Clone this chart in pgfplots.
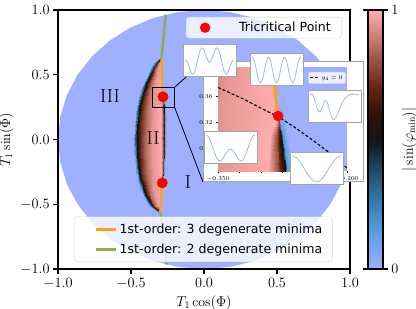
\documentclass[border=0pt]{standalone}
\usepackage{fontspec}
\usepackage{pgfplots}
\usepackage{pgfplotstable}
\pgfplotsset{compat=1.18}
\newfontfamily\djs{DejaVu Sans}
\newcommand\fs{\fontsize{13.9}{16.5}\selectfont}
\newcommand\lgfs{\djs\fontsize{12.6}{15}\selectfont}
\definecolor{bzero}{RGB}{158,176,255}
\definecolor{orng}{RGB}{255,160,25}
\definecolor{grn}{RGB}{145,172,78}
\definecolor{wave}{RGB}{165,185,220}
\definecolor{frm}{RGB}{165,165,165}
\pgfplotsset{
  colormap={berlin}{rgb255=(158,176,255) rgb255=(110,165,235) rgb255=(72,143,200) rgb255=(45,108,148) rgb255=(28,66,90) rgb255=(17,20,22) rgb255=(52,18,6) rgb255=(100,38,18) rgb255=(152,80,64) rgb255=(205,128,118) rgb255=(255,173,173)},
  wavebox/.style={scale only axis, width=53bp, height=32bp, anchor=south west,
    xtick=\empty, ytick=\empty, axis line style={draw=frm, line width=1bp},
    axis background/.style={fill=white}, enlarge x limits=0.05, enlarge y limits=0.12},
}
\pgfplotstableread{
x y c
-0.311 0.63 0
-0.299 0.63 0.3
-0.291 0.63 0.6
-0.291 0.63 0.6
-0.291 0.63 0.6
-0.291 0.63 0.6
-0.291 0.63 0.6
-0.291 0.63 0.6
-0.291 0.63 0.6
-0.290 0.63 0
-0.283 0.63 0
-0.343 0.60 0
-0.328 0.60 0.3
-0.318 0.60 0.5
-0.3152 0.60 0.7
-0.3096 0.60 0.85
-0.3026 0.60 0.95
-0.292 0.60 1
-0.291 0.60 1
-0.290 0.60 1
-0.289 0.60 0
-0.282 0.60 0
-0.370 0.55 0
-0.355 0.55 0.3
-0.345 0.55 0.5
-0.3394 0.55 0.7
-0.3282 0.55 0.85
-0.3142 0.55 0.95
-0.291 0.55 1
-0.290 0.55 1
-0.289 0.55 1
-0.288 0.55 0
-0.281 0.55 0
-0.392 0.50 0
-0.377 0.50 0.3
-0.367 0.50 0.5
-0.3591 0.50 0.7
-0.3433 0.50 0.85
-0.3236 0.50 0.95
-0.290 0.50 1
-0.289 0.50 1
-0.288 0.50 1
-0.287 0.50 0
-0.280 0.50 0
-0.413 0.45 0
-0.398 0.45 0.3
-0.388 0.45 0.5
-0.3779 0.45 0.7
-0.3577 0.45 0.85
-0.3325 0.45 0.95
-0.289 0.45 1
-0.288 0.45 1
-0.287 0.45 1
-0.286 0.45 0
-0.279 0.45 0
-0.430 0.40 0
-0.415 0.40 0.3
-0.405 0.40 0.5
-0.3931 0.40 0.7
-0.3693 0.40 0.85
-0.3396 0.40 0.95
-0.288 0.40 1
-0.287 0.40 1
-0.286 0.40 1
-0.285 0.40 0
-0.278 0.40 0
-0.443 0.36 0
-0.428 0.36 0.3
-0.418 0.36 0.5
-0.4045 0.36 0.7
-0.3775 0.36 0.85
-0.3438 0.36 0.95
-0.285 0.36 1
-0.284 0.36 1
-0.283 0.36 1
-0.282 0.36 0
-0.275 0.36 0
-0.452 0.33 0
-0.437 0.33 0.3
-0.427 0.33 0.5
-0.4123 0.33 0.7
-0.3829 0.33 0.85
-0.3462 0.33 0.95
-0.282 0.33 1
-0.281 0.33 1
-0.280 0.33 0.9
-0.279 0.33 0.05
-0.272 0.33 0
-0.459 0.30 0
-0.444 0.30 0.3
-0.434 0.30 0.5
-0.4183 0.30 0.7
-0.3869 0.30 0.85
-0.3477 0.30 0.95
-0.289 0.30 1
-0.2818 0.30 0.8
-0.277 0.30 0.5
-0.275 0.30 0.15
-0.269 0.30 0
-0.467 0.25 0
-0.452 0.25 0.3
-0.442 0.25 0.5
-0.425 0.25 0.7
-0.391 0.25 0.85
-0.3485 0.25 0.95
-0.292 0.25 1
-0.280 0.25 0.8
-0.272 0.25 0.5
-0.270 0.25 0.15
-0.264 0.25 0
-0.473 0.20 0
-0.458 0.20 0.3
-0.448 0.20 0.5
-0.4302 0.20 0.7
-0.3946 0.20 0.85
-0.3501 0.20 0.95
-0.294 0.20 1
-0.2796 0.20 0.8
-0.270 0.20 0.5
-0.268 0.20 0.15
-0.262 0.20 0
-0.482 0.10 0
-0.467 0.10 0.3
-0.457 0.10 0.5
-0.4381 0.10 0.7
-0.4003 0.10 0.85
-0.3530 0.10 0.95
-0.296 0.10 1
-0.2792 0.10 0.8
-0.268 0.10 0.5
-0.266 0.10 0.15
-0.260 0.10 0
-0.485 0.00 0
-0.470 0.00 0.3
-0.460 0.00 0.5
-0.4408 0.00 0.7
-0.4024 0.00 0.85
-0.3544 0.00 0.95
-0.296 0.00 1
-0.2792 0.00 0.8
-0.268 0.00 0.5
-0.266 0.00 0.15
-0.260 0.00 0
-0.483 -0.10 0
-0.468 -0.10 0.3
-0.458 -0.10 0.5
-0.4392 -0.10 0.7
-0.4016 -0.10 0.85
-0.3546 -0.10 0.95
-0.296 -0.10 1
-0.2804 -0.10 0.8
-0.270 -0.10 0.5
-0.268 -0.10 0.15
-0.262 -0.10 0
-0.475 -0.20 0
-0.460 -0.20 0.3
-0.450 -0.20 0.5
-0.4324 -0.20 0.7
-0.3972 -0.20 0.85
-0.3532 -0.20 0.95
-0.296 -0.20 1
-0.2828 -0.20 0.8
-0.274 -0.20 0.5
-0.272 -0.20 0.15
-0.266 -0.20 0
-0.470 -0.25 0
-0.455 -0.25 0.3
-0.445 -0.25 0.5
-0.4282 -0.25 0.7
-0.3946 -0.25 0.85
-0.3526 -0.25 0.95
-0.295 -0.25 1
-0.2842 -0.25 0.8
-0.277 -0.25 0.5
-0.275 -0.25 0.15
-0.269 -0.25 0
-0.462 -0.30 0
-0.447 -0.30 0.3
-0.437 -0.30 0.5
-0.4215 -0.30 0.7
-0.3905 -0.30 0.85
-0.3518 -0.30 0.95
-0.292 -0.30 1
-0.286 -0.30 0.8
-0.282 -0.30 0.5
-0.280 -0.30 0.15
-0.274 -0.30 0
-0.453 -0.335 0
-0.438 -0.335 0.3
-0.428 -0.335 0.5
-0.4138 -0.335 0.7
-0.3854 -0.335 0.85
-0.3499 -0.335 0.95
-0.288 -0.335 1
-0.287 -0.335 1
-0.286 -0.335 0.9
-0.285 -0.335 0.05
-0.278 -0.335 0
-0.443 -0.37 0
-0.428 -0.37 0.3
-0.418 -0.37 0.5
-0.4051 -0.37 0.7
-0.3793 -0.37 0.85
-0.3470 -0.37 0.95
-0.291 -0.37 1
-0.290 -0.37 1
-0.289 -0.37 1
-0.288 -0.37 0
-0.281 -0.37 0
-0.427 -0.42 0
-0.412 -0.42 0.3
-0.402 -0.42 0.5
-0.3910 -0.42 0.7
-0.3690 -0.42 0.85
-0.3415 -0.42 0.95
-0.294 -0.42 1
-0.293 -0.42 1
-0.292 -0.42 1
-0.291 -0.42 0
-0.284 -0.42 0
-0.403 -0.47 0
-0.388 -0.47 0.3
-0.378 -0.47 0.5
-0.3696 -0.47 0.7
-0.3528 -0.47 0.85
-0.3318 -0.47 0.95
-0.296 -0.47 1
-0.295 -0.47 1
-0.294 -0.47 1
-0.293 -0.47 0
-0.286 -0.47 0
-0.377 -0.51 0
-0.362 -0.51 0.3
-0.352 -0.51 0.5
-0.3464 -0.51 0.7
-0.3352 -0.51 0.85
-0.3212 -0.51 0.95
-0.298 -0.51 1
-0.297 -0.51 1
-0.296 -0.51 1
-0.295 -0.51 0
-0.288 -0.51 0
-0.319 -0.56 0
-0.307 -0.56 0.3
-0.299 -0.56 0.6
-0.299 -0.56 0.6
-0.299 -0.56 0.6
-0.299 -0.56 0.6
-0.299 -0.56 0.6
-0.299 -0.56 0.6
-0.299 -0.56 0.6
-0.298 -0.56 0
-0.291 -0.56 0
}\lens

\begin{document}
\begin{tikzpicture}
\path[use as bounding box] (0bp,0bp) rectangle (416bp,309bp);
% ---------------- main axis
\begin{axis}[
  at={(58bp,40bp)}, anchor=south west,
  scale only axis, width=292bp, height=259bp,
  xmin=-1, xmax=1, ymin=-1, ymax=1,
  axis on top,
  xtick={-1,-0.5,0,0.5,1}, ytick={-1,-0.5,0,0.5,1},
  xticklabels={$-1.0$,$-0.5$,$0.0$,$0.5$,$1.0$},
  yticklabels={$-1.0$,$-0.5$,$0.0$,$0.5$,$1.0$},
  xtick pos=left, ytick pos=left,
  tick align=outside, major tick length=4.9bp,
  tick style={black, line width=1.1bp},
  axis line style={line width=1.1bp},
  tick label style={font=\fs},
  xticklabel style={yshift=-1bp},
  label style={font=\fs},
  xlabel={$T_1\cos(\Phi)$}, ylabel={$T_1\sin(\Phi)$},
  point meta min=0, point meta max=1,
  colorbar,
  colorbar shift/.style={xshift=18bp},
  colorbar style={at={(parent axis.north east)}, anchor=north west,
    scale only axis, width=15bp, height=259bp,
    ytick={0,1}, yticklabels={$0$,$1$},
    tick align=outside, major tick length=4.9bp,
    tick style={black, line width=1.1bp}, axis line style={line width=1.1bp},
    tick label style={font=\fs},
    ylabel={$|\sin(\varphi_{\min})|$},
    every axis y label/.style={at={(rel axis cs:2.75,0.5)}, rotate=90, anchor=center, font=\fs}},
  legend style={at={(0.0548,0.027)}, anchor=south west, draw=black!18, fill=white,
    fill opacity=0.8, text opacity=1, rounded corners=3bp,
    inner xsep=8bp, inner ysep=5bp, font=\lgfs, row sep=5bp},
  legend cell align=left,
  legend image code/.code={\draw[#1, line width=3bp] (14bp,0bp) -- (34bp,0bp); \path[draw=none,fill=none] (0bp,0bp) -- (34bp,0bp);},
]
\addplot[fill=bzero, draw=none, forget plot] coordinates {
(1,0) (0.9848,0.1736) (0.9397,0.3420) (0.8660,0.5) (0.7660,0.6428) (0.6428,0.7660)
(0.5,0.8660) (0.3420,0.9397) (0.1736,0.9848) (0,1) (-0.1736,0.9848) (-0.3420,0.9397)
(-0.5,0.8660) (-0.6428,0.7660) (-0.7660,0.6428) (-0.8660,0.5) (-0.9397,0.3420)
(-0.9848,0.1736) (-1,0) (-0.9848,-0.1736) (-0.9397,-0.3420) (-0.8660,-0.5)
(-0.7660,-0.6428) (-0.6428,-0.7660) (-0.5,-0.8660) (-0.3420,-0.9397) (-0.1736,-0.9848)
(0,-1) (0.1736,-0.9848) (0.3420,-0.9397) (0.5,-0.8660) (0.6428,-0.7660) (0.7660,-0.6428)
(0.8660,-0.5) (0.9397,-0.3420) (0.9848,-0.1736)};
\addplot[surf, shader=interp, mesh/cols=11, point meta=\thisrow{c}, forget plot] table[x=x, y=y] {\lens};
\addplot[orng, line width=2.4bp] coordinates {(-0.281,0.33) (-0.283,0.36) (-0.286,0.40) (-0.287,0.45) (-0.288,0.50) (-0.289,0.55) (-0.290,0.60) (-0.291,0.63)};
\addlegendentry{1st-order: 3 degenerate minima}
\addplot[orng, line width=2.4bp, forget plot] coordinates {(-0.286,-0.335) (-0.289,-0.37) (-0.292,-0.42) (-0.294,-0.47) (-0.296,-0.51) (-0.299,-0.56)};
\addplot[grn, line width=2.4bp] coordinates {(-0.291,0.63) (-0.262,0.965)};
\addlegendentry{1st-order: 2 degenerate minima}
\addplot[grn, line width=2.4bp, forget plot] coordinates {(-0.299,-0.56) (-0.255,-0.967)};
\addplot[black, line width=1.1bp, forget plot] coordinates {(-0.35,0.245) (-0.2,0.245) (-0.2,0.405) (-0.35,0.405) (-0.35,0.245)};
\node[font=\fontsize{19}{22}\selectfont] at (axis cs:-0.644,0.336) {III};
\node[font=\fontsize{19}{22}\selectfont] at (axis cs:-0.349,0.012) {II};
\node[font=\fontsize{19}{22}\selectfont] at (axis cs:-0.110,-0.328) {I};
\coordinate (r1) at (axis cs:-0.2,0.405);
\coordinate (r2) at (axis cs:-0.2,0.245);
\end{axis}
% connectors and inset background
\draw[black, line width=0.8bp] (r1) -- (203bp,247bp);
\draw[black, line width=0.8bp] (r2) -- (203bp,127bp);
\draw[fill=white, draw=frm, line width=1bp] (203bp,127bp) rectangle (363bp,247bp);
% ---------------- inset
\begin{axis}[
  at={(218bp,137.7bp)}, anchor=south west,
  scale only axis, width=129bp, height=104bp,
  xmin=-0.35, xmax=-0.2, ymin=0.245, ymax=0.405,
  axis background/.style={fill=bzero},
  axis line style={draw=none},
  xtick={-0.35,-0.2}, xticklabels={$-0.350$,$-0.200$},
  minor xtick={-0.325,-0.3,-0.275,-0.25,-0.225},
  ytick={0.28,0.32,0.36,0.40}, yticklabels={$0.28$,$0.32$,$0.36$,$0.40$},
  xtick pos=left, ytick pos=left, tick align=outside,
  major tick length=2bp, minor tick length=2bp, tick style={black, line width=0.5bp},
  tick label style={font=\fontsize{5.6}{6}\selectfont},
  point meta min=0, point meta max=1,
  legend style={at={(0.99,0.955)}, anchor=north east, font=\fontsize{6}{7}\selectfont,
    draw=black!18, fill=white, fill opacity=0.8, text opacity=1, rounded corners=1bp,
    inner sep=1bp},
  legend image code/.code={\draw[#1] (0bp,0bp) -- (9bp,0bp);},
]
\addplot[surf, shader=interp, mesh/cols=11, point meta=\thisrow{c}, forget plot] table[x=x, y=y] {\lens};
\addplot[orng, line width=3bp, forget plot] coordinates {(-0.280,0.33) (-0.283,0.36) (-0.286,0.40) (-0.2865,0.41)};
\addplot[black, line width=1.1bp, dash pattern=on 3bp off 2bp] coordinates {(-0.35,0.374) (-0.32,0.356) (-0.30,0.342) (-0.28,0.329) (-0.26,0.312) (-0.24,0.293) (-0.22,0.273) (-0.20,0.250)};
\addlegendentry{$g_4=0$}
\addplot[only marks, mark=*, mark size=5bp, red, forget plot] coordinates {(-0.280,0.33)};
\end{axis}
% ---------------- wave boxes
\begin{axis}[wavebox, at={(183bp,232bp)}]
\addplot[wave, line width=0.8bp, smooth] coordinates {(-180,0.115) (-165,-0.1478) (-150,-0.7664) (-135,-1.3329) (-120,-1.4425) (-105,-0.9361) (-90,0) (-75,0.9361) (-60,1.4425) (-45,1.3329) (-30,0.7664) (-15,0.1478) (0,-0.115) (15,0.1478) (30,0.7664) (45,1.3329) (60,1.4425) (75,0.9361) (90,0) (105,-0.9361) (120,-1.4425) (135,-1.3329) (150,-0.7664) (165,-0.1478) (180,0.115)};
\end{axis}
\begin{axis}[wavebox, at={(250bp,223bp)}]
\addplot[wave, line width=0.8bp, smooth] coordinates {(0,1) (15,0.7071) (30,0) (45,-0.7071) (60,-1) (75,-0.7071) (90,0) (105,0.7071) (120,1) (135,0.7071) (150,0) (165,-0.7071) (180,-1) (195,-0.7071) (210,0) (225,0.7071) (240,1) (255,0.7071) (270,0) (285,-0.7071) (300,-1) (315,-0.7071) (330,0) (345,0.7071) (360,1)};
\end{axis}
\begin{axis}[wavebox, at={(308bp,186bp)}]
\addplot[wave, line width=0.8bp, smooth] coordinates {(0,0.97) (14,1.0) (34,0.75) (52,0.42) (68,0.31) (86,0.45) (104,0.70) (116,0.76) (130,0.62) (150,0.25) (173,0.0) (196,0.15) (222,0.48) (250,0.78) (280,0.93) (315,1.0) (340,0.99) (360,0.97)};
\end{axis}
\begin{axis}[wavebox, at={(204bp,145bp)}]
\addplot[wave, line width=0.8bp, smooth] coordinates {(-180,1.76) (-165,1.6001) (-150,1.1582) (-135,0.5374) (-120,-0.12) (-105,-0.6693) (-90,-1) (-75,-1.0627) (-60,-0.88) (-45,-0.5374) (-30,-0.1582) (-15,0.1319) (0,0.24) (15,0.1319) (30,-0.1582) (45,-0.5374) (60,-0.88) (75,-1.0627) (90,-1) (105,-0.6693) (120,-0.12) (135,0.5374) (150,1.1582) (165,1.6001) (180,1.76)};
\end{axis}
\begin{axis}[wavebox, at={(290bp,124bp)}]
\addplot[wave, line width=0.8bp, smooth] coordinates {(-180,1) (-165,0.9659) (-150,0.866) (-135,0.7071) (-120,0.5) (-105,0.2588) (-90,0) (-75,-0.2588) (-60,-0.5) (-45,-0.7071) (-30,-0.866) (-15,-0.9659) (0,-1) (15,-0.9659) (30,-0.866) (45,-0.7071) (60,-0.5) (75,-0.2588) (90,0) (105,0.2588) (120,0.5) (135,0.7071) (150,0.866) (165,0.9659) (180,1)};
\end{axis}
% ---------------- tricritical points + legend
\begin{axis}[
  at={(58bp,40bp)}, anchor=south west,
  scale only axis, width=292bp, height=259bp,
  xmin=-1, xmax=1, ymin=-1, ymax=1, hide axis,
  legend style={at={(0.9726,0.973)}, anchor=north east, draw=black!18, fill=white,
    fill opacity=0.8, text opacity=1, rounded corners=3bp,
    inner xsep=9bp, inner ysep=3bp, font=\lgfs},
  legend image code/.code={\fill[red, fill opacity=1, draw=none] (10bp,0bp) circle (5.2bp); \path[draw=none, fill=none] (0bp,-6bp) rectangle (42bp,6bp);},
]
\addplot[only marks, mark=*, mark size=5.2bp, red] coordinates {(-0.281,0.33) (-0.286,-0.335)};
\addlegendentry{Tricritical Point}
\end{axis}
\end{tikzpicture}
\end{document}
